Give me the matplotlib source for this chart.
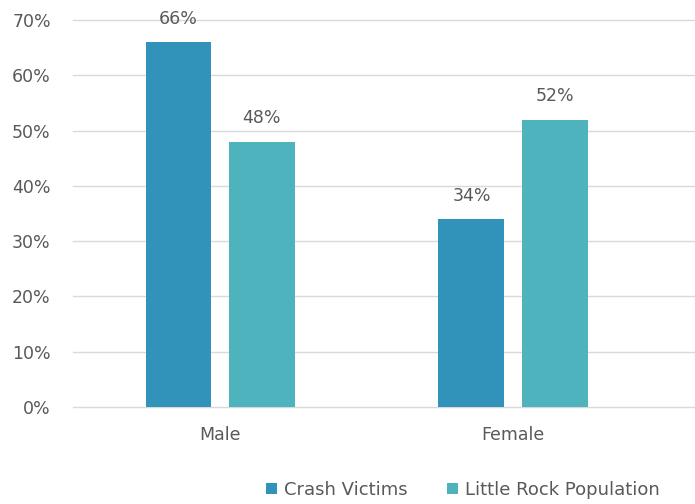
import numpy as np
import matplotlib.pyplot as plt
from matplotlib.ticker import PercentFormatter

categories = ['Male', 'Female']
crash_victims = [66, 34]
little_rock = [48, 52]
series_names = ['Crash Victims', 'Little Rock Population']

c_crash = '#3192BA'
c_lr = '#4EB3BD'
grey = '#595959'

plt.rcParams['font.family'] = ['DejaVu Sans']

fig = plt.figure(figsize=(6.95, 5.04), dpi=100)
ax = fig.add_axes([73 / 695, 1 - 407 / 504, 1 - 73 / 695, (407 - 20) / 504])

x = np.arange(len(categories))
w = 0.225
b1 = ax.bar(x - 0.142, crash_victims, w, color=c_crash, label=series_names[0], zorder=3)
b2 = ax.bar(x + 0.142, little_rock, w, color=c_lr, label=series_names[1], zorder=3)

for bars in (b1, b2):
    for r in bars:
        ax.text(r.get_x() + r.get_width() / 2, r.get_height() + 2.6, f'{r.get_height():.0f}%',
                ha='center', va='bottom', fontsize=12.5, color=grey)

ax.set_ylim(0, 70)
ax.set_xlim(-0.502, 1.621)
ax.set_yticks(np.arange(0, 71, 10))
ax.yaxis.set_major_formatter(PercentFormatter(decimals=0))
ax.set_xticks(x)
ax.set_xticklabels(categories)
ax.tick_params(axis='both', length=0, labelsize=12.5, colors=grey)
ax.tick_params(axis='x', pad=14)
ax.tick_params(axis='y', pad=16)
ax.yaxis.grid(True, color='#D9D9D9', linewidth=1, zorder=0)
for gl in ax.get_ygridlines():
    gl.set_clip_on(False)
for s in ax.spines.values():
    s.set_visible(False)

fig.legend(handles=[b1, b2], loc='center', bbox_to_anchor=(463 / 695, 1 - 490 / 504),
           ncol=2, frameon=False, fontsize=13, labelcolor=grey,
           handlelength=0.6, handleheight=0.6, handletextpad=0.4, columnspacing=2.2)

fig.savefig('out.png', dpi=100)
